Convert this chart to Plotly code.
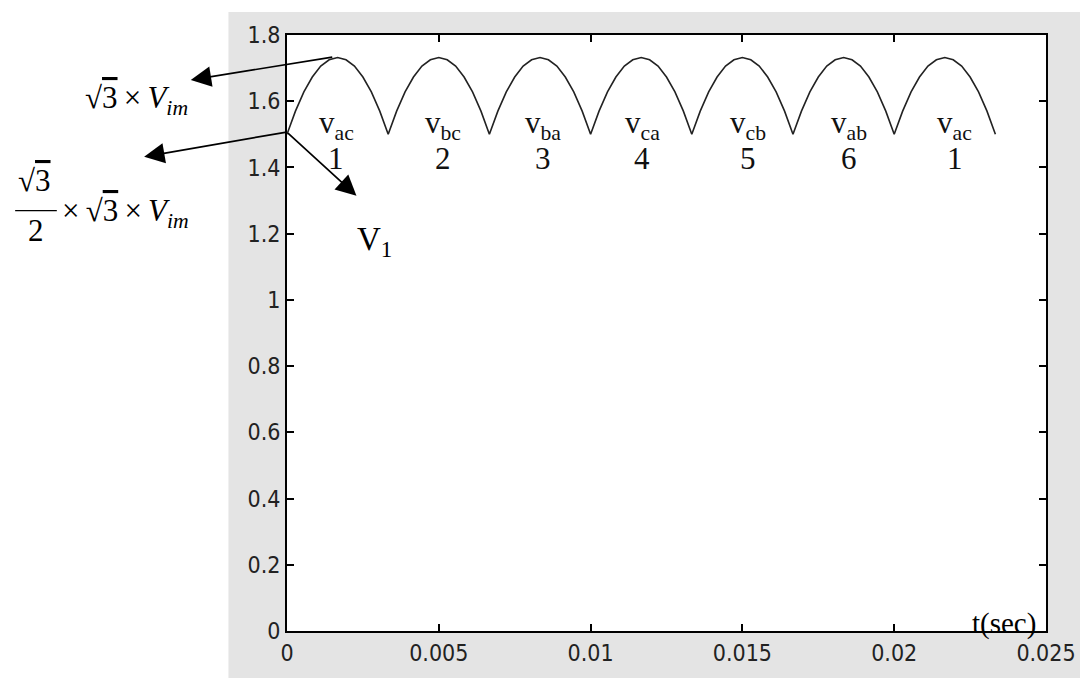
import plotly.graph_objects as go

# ---- data ----
# start time of each 60-degree conduction interval (s)
ARC_START = [0.0, 0.003333, 0.006667, 0.010, 0.013333, 0.016667, 0.020]
# time offsets within one interval (s) and the read voltage (pu) at each
ARC_DT = [0.0, 0.000278, 0.000556, 0.000833, 0.001111, 0.001389, 0.001667,
          0.001944, 0.002222, 0.002500, 0.002778, 0.003056, 0.003333]
ARC_V = [1.500, 1.570, 1.628, 1.673, 1.706, 1.725, 1.732,
         1.725, 1.706, 1.673, 1.628, 1.570, 1.500]

LABEL_T = [0.00163, 0.00513, 0.00843, 0.0117, 0.0152, 0.0185, 0.0220]
LABEL_SUB = ["ac", "bc", "ba", "ca", "cb", "ab", "ac"]
LABEL_NUM = ["1", "2", "3", "4", "5", "6", "1"]

X_TICKS = [0, 0.005, 0.01, 0.015, 0.02, 0.025]
X_TICKTEXT = ["0", "0.005", "0.01", "0.015", "0.02", "0.025"]
Y_TICKS = [0, 0.2, 0.4, 0.6, 0.8, 1.0, 1.2, 1.4, 1.6, 1.8]
Y_TICKTEXT = ["0", "0.2", "0.4", "0.6", "0.8", "1", "1.2", "1.4", "1.6", "1.8"]

t_vals, v_vals = [], []
for k, t0 in enumerate(ARC_START):
    for j, (dt, v) in enumerate(zip(ARC_DT, ARC_V)):
        if k > 0 and j == 0:
            continue
        t_vals.append(t0 + dt)
        v_vals.append(v)

SERIF = "Liberation Serif, Times New Roman, serif"
TICKFONT = dict(family="Liberation Sans Narrow, DejaVu Sans Condensed, Arial Narrow, sans-serif",
                size=23, color="#222")

fig = go.Figure()
fig.add_trace(go.Scatter(x=t_vals, y=v_vals, mode="lines",
                         line=dict(color="#222", width=1.6), hoverinfo="skip",
                         showlegend=False))

# page has an 8px body margin: the figure is 1080x670 placed at (8, 8)
W, H = 1080, 670
L, R, T, B = 279, 36, 27, 46
PW, PH = W - L - R, H - T - B
X0_REF, Y0_REF = 287, 632   # plot-area left / bottom in window pixels

def px2paper(px, py):
    return (px - X0_REF) / PW, (Y0_REF - py) / PH

shapes = []
# halftone-like grey backdrop
gx0, gy0 = px2paper(228, 690)
gx1, gy1 = px2paper(1100, 12)
shapes.append(dict(type="rect", xref="paper", yref="paper", x0=gx0, y0=gy0,
                   x1=gx1, y1=gy1, fillcolor="#e4e4e4", line=dict(width=0),
                   layer="below"))
shapes.append(dict(type="rect", xref="paper", yref="paper", x0=0, y0=0, x1=1, y1=1,
                   fillcolor="white", line=dict(width=0), layer="below"))
# fraction bar
fx0, fy = px2paper(13, 211)
fx1, _ = px2paper(55, 211)
shapes.append(dict(type="line", xref="paper", yref="paper", x0=fx0, y0=fy, x1=fx1, y1=fy,
                   line=dict(color="black", width=1.3)))

annotations = []
for t, s, n in zip(LABEL_T, LABEL_SUB, LABEL_NUM):
    annotations.append(dict(x=t, y=1.528, xref="x", yref="y", showarrow=False,
                            text=f"v<sub>{s}</sub>",
                            font=dict(family=SERIF, size=31, color="#111")))
    annotations.append(dict(x=t, y=1.427, xref="x", yref="y", showarrow=False,
                            text=n, font=dict(family=SERIF, size=31, color="#111")))

def arrow(head_px, tail_px):
    hx, hy = px2paper(*head_px)
    return dict(x=hx, y=hy, xref="paper", yref="paper", text="", showarrow=True,
                ax=tail_px[0] - head_px[0], ay=tail_px[1] - head_px[1],
                arrowhead=2, arrowsize=2.4, arrowwidth=1.7, arrowcolor="black")

annotations.append(arrow((190, 80), (333, 57)))
annotations.append(arrow((143, 157), (287, 132)))
annotations.append(arrow((357, 196), (287, 132)))

def ptext(px, py, text, size, xanchor="center"):
    x, y = px2paper(px, py)
    return dict(x=x, y=y, xref="paper", yref="paper", showarrow=False, text=text,
                xanchor=xanchor, yanchor="middle",
                font=dict(family=SERIF, size=size, color="black"))

SQ3 = "√<span style='text-decoration:overline'>3</span>"
TS = "\u2009"
annotations.append(ptext(81, 100, SQ3 + TS + "×" + TS + "<i>V</i><sub><i>im</i></sub>", 31, "left"))
annotations.append(ptext(33, 181, SQ3, 31))
annotations.append(ptext(34, 231, "2", 31))
annotations.append(ptext(58, 213, "×" + TS + SQ3 + TS + "×" + TS + "<i>V</i><sub><i>im</i></sub>", 31, "left"))
annotations.append(ptext(356, 242, "V<sub>1</sub>", 33, "left"))
annotations.append(ptext(975, 624, "t(sec)", 29, "left"))

fig.update_layout(
    width=W, height=H,
    margin=dict(l=L, r=R, t=T, b=B),
    paper_bgcolor="white", plot_bgcolor="white",
    shapes=shapes, annotations=annotations,
    xaxis=dict(range=[0, 0.025], tickvals=X_TICKS, ticktext=X_TICKTEXT,
               ticks="inside", ticklen=7, tickwidth=1.5, tickcolor="black",
               showline=True, linecolor="black", linewidth=1.8, mirror="ticks",
               showgrid=False, zeroline=False, tickfont=TICKFONT),
    yaxis=dict(range=[0, 1.8], tickvals=Y_TICKS, ticktext=Y_TICKTEXT,
               ticks="inside", ticklen=7, tickwidth=1.5, tickcolor="black",
               showline=True, linecolor="black", linewidth=1.8, mirror="ticks",
               showgrid=False, zeroline=False, tickfont=TICKFONT),
)

fig.write_html("out.html")
